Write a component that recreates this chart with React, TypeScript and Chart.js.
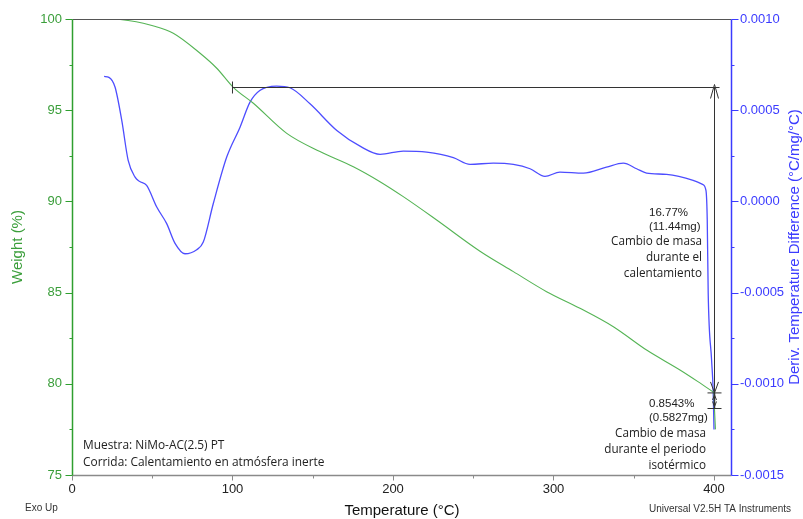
import { useEffect, useRef } from "react";
import { Chart, registerables } from "chart.js";

Chart.register(...registerables);

// TGA run: weight loss and derivative temperature difference vs. temperature
const tempWeight = [20, 30, 40, 48.6, 63.1, 79.8, 90.2, 100.3, 113, 133.8, 154.5, 175.3, 191.9, 206.4, 227.2, 254.2, 275, 295.7, 316.5, 337.3, 358, 378.8, 390, 400];
const weightPct = [100, 99.97, 99.85, 99.67, 99.22, 98.12, 97.3, 96.27, 95.38, 93.73, 92.73, 91.9, 91.08, 90.26, 88.98, 87.27, 86.15, 85.05, 84.14, 83.13, 81.85, 80.76, 80.12, 79.52];

// isothermal hold at the final temperature
const tempHold = [400, 400.3, 400.9];
const weightHold = [79.52, 78.65, 77.5];

const tempDeriv = [20, 23, 26.8, 31, 35, 39.3, 42, 46.5, 52.8, 59, 64.2, 70.4, 77.7, 81.8, 88, 96.4, 104.7, 110.9, 117, 127.5, 135.8, 148.3, 165, 180, 192, 206.4, 221, 237.6, 248, 262.5, 275, 285.4, 294.7, 304, 318.6, 333, 343.5, 351.8, 358, 370.5, 387, 392.9, 395, 395.8, 396.4, 398.5, 399.5, 400];
const derivValues = [0.000685, 0.00068, 0.000627, 0.000444, 0.000225, 0.000133, 0.00011, 0.0000877, -0.0000311, -0.000122, -0.00023, -0.000287, -0.000265, -0.000223, -0.0000128, 0.000243, 0.000407, 0.000544, 0.000608, 0.000632, 0.000623, 0.000535, 0.000389, 0.0003, 0.000258, 0.000276, 0.00027, 0.00024, 0.000203, 0.00021, 0.000203, 0.000179, 0.000137, 0.000161, 0.000155, 0.000188, 0.00021, 0.000179, 0.000155, 0.000148, 0.000115, 0.0000932, 0.00006, -0.000104, -0.000506, -0.00087, -0.00104, -0.00125];

const xTickValues = [0, 100, 200, 300, 400];
const weightTickValues = [75, 80, 85, 90, 95, 100];
const derivTickValues = [-0.0015, -0.001, -0.0005, 0, 0.0005, 0.001];

// step analysis
const stepStartTemp = 100;
const stepStartWeight = 96.27;
const stepEndTemp = 400;
const heatingLossPct = 16.77;
const heatingLossMg = 11.44;
const isoLossPct = 0.8543;
const isoLossMg = 0.5827;

const sampleLines = ["Muestra: NiMo-AC(2.5) PT", "Corrida: Calentamiento en atmósfera inerte"];
const heatingLines = ["Cambio de masa", "durante el", "calentamiento"];
const isoLines = ["Cambio de masa", "durante el periodo", "isotérmico"];

const GREEN_TEXT = "#3a9e3a";
const GREEN_AXIS = "#2f9f2f";
const GREEN_LINE = "#55b455";
const BLUE = "#3b3bff";
const BLUE_LINE = "#4d4dff";
const ARIAL = "'Liberation Sans', Arial, sans-serif";
const SEGOE = "'Open Sans', 'Noto Sans', sans-serif";

function seg(ctx: CanvasRenderingContext2D, x1: number, y1: number, x2: number, y2: number, color: string, w = 1) {
  ctx.beginPath();
  ctx.strokeStyle = color;
  ctx.lineWidth = w;
  ctx.moveTo(x1, y1);
  ctx.lineTo(x2, y2);
  ctx.stroke();
}

const overlay = {
  id: "taOverlay",
  afterDraw(chart: any) {
    const { ctx, chartArea: a } = chart;
    const x = chart.scales.x;
    const y = chart.scales.y;
    const y1 = chart.scales.y1;
    ctx.save();

    const L = Math.round(a.left) + 0.5;
    const R = Math.round(a.right) + 0.5;
    const T = Math.round(a.top) + 0.5;
    const B = Math.round(a.bottom) + 0.5;

    // frame and axes
    seg(ctx, L, T, R, T, "#555");
    seg(ctx, L, B, R, B, "#8a8a8a", 1.5);
    seg(ctx, L, T, L, B, GREEN_AXIS, 1.5);
    seg(ctx, R, T, R, B, BLUE, 1.5);

    // x ticks (major every 100, minor every 50)
    for (let v = 0; v <= 400; v += 50) {
      const px = Math.round(x.getPixelForValue(v)) + 0.5;
      seg(ctx, px, B, px, B + (v % 100 === 0 ? 5 : 3), "#8a8a8a");
    }
    // weight ticks
    for (let v = 75; v <= 100; v += 2.5) {
      const py = Math.round(y.getPixelForValue(v)) + 0.5;
      seg(ctx, L, py, L - (v % 5 === 0 ? 7 : 3), py, GREEN_AXIS);
    }
    // derivative ticks
    for (let i = 0; i <= 10; i++) {
      const v = -0.0015 + i * 0.00025;
      const py = Math.round(y1.getPixelForValue(v)) + 0.5;
      seg(ctx, R, py, R + (i % 2 === 0 ? 7 : 3), py, BLUE);
    }

    // heating step annotation
    const ink = "#333";
    const sx = x.getPixelForValue(stepStartTemp);
    const ex = Math.round(x.getPixelForValue(stepEndTemp)) + 0.5;
    const topY = Math.round(y.getPixelForValue(stepStartWeight)) + 0.5;
    const endW = stepStartWeight - heatingLossPct;
    const botY = y.getPixelForValue(endW);
    const isoY = y.getPixelForValue(endW - isoLossPct);
    seg(ctx, sx, topY, ex + 5, topY, ink);
    seg(ctx, sx, topY - 6, sx, topY + 6, ink);
    seg(ctx, ex, topY, ex, botY, ink);
    // arrowheads
    seg(ctx, ex, topY - 3, ex - 4, topY + 11, ink);
    seg(ctx, ex, topY - 3, ex + 4, topY + 11, ink);
    seg(ctx, ex, botY, ex - 4, botY - 11, ink);
    seg(ctx, ex, botY, ex + 4, botY - 11, ink);
    // isothermal step
    seg(ctx, ex - 7, botY, ex + 7, botY, ink);
    seg(ctx, ex - 7, isoY, ex + 7, isoY, ink);
    seg(ctx, ex, botY, ex, isoY, ink, 1.5);
    seg(ctx, ex, botY + 2, ex - 2, botY + 7, ink);
    seg(ctx, ex, botY + 2, ex + 2, botY + 7, ink);
    seg(ctx, ex, isoY - 2, ex - 2, isoY - 7, ink);
    seg(ctx, ex, isoY - 2, ex + 2, isoY - 7, ink);

    ctx.fillStyle = "#222";
    ctx.textBaseline = "middle";
    // heating labels
    ctx.font = `11.5px ${ARIAL}`;
    ctx.textAlign = "left";
    ctx.fillText(`${heatingLossPct.toFixed(2)}%`, 649, 213);
    ctx.fillText(`(${heatingLossMg.toFixed(2)}mg)`, 649, 227);
    ctx.font = `11.7px ${SEGOE}`;
    ctx.textAlign = "right";
    heatingLines.forEach((s, i) => ctx.fillText(s, 702, 242 + i * 15.8));
    // isothermal labels
    ctx.font = `11.5px ${ARIAL}`;
    ctx.textAlign = "left";
    ctx.fillText(`${isoLossPct.toFixed(4)}%`, 649, 404);
    ctx.fillText(`(${isoLossMg.toFixed(4)}mg)`, 649, 418);
    ctx.font = `11.7px ${SEGOE}`;
    ctx.textAlign = "right";
    isoLines.forEach((s, i) => ctx.fillText(s, 706, 434 + i * 16));

    // sample info
    ctx.font = `11.9px ${SEGOE}`;
    ctx.textAlign = "left";
    sampleLines.forEach((s, i) => ctx.fillText(s, 83, 446 + i * 16.7));

    // footer
    ctx.font = `10px ${ARIAL}`;
    ctx.fillStyle = "#333";
    ctx.fillText("Exo Up", 25, 508);
    ctx.textAlign = "right";
    ctx.fillText("Universal V2.5H TA Instruments", 791, 509);

    // axis titles
    ctx.font = `15px ${ARIAL}`;
    ctx.textAlign = "center";
    ctx.fillStyle = "#111";
    ctx.fillText("Temperature (°C)", 402, 511);

    ctx.save();
    ctx.translate(18, (a.top + a.bottom) / 2);
    ctx.rotate(-Math.PI / 2);
    ctx.fillStyle = GREEN_TEXT;
    ctx.fillText("Weight (%)", 0, 0);
    ctx.restore();

    ctx.save();
    ctx.translate(795, (a.top + a.bottom) / 2);
    ctx.rotate(-Math.PI / 2);
    ctx.fillStyle = BLUE;
    ctx.font = `15px ${ARIAL}`;
    ctx.fillText("Deriv. Temperature Difference (°C/mg/°C)", 0, 0);
    ctx.restore();

    ctx.restore();
  },
};

export default function App() {
  const ref = useRef<HTMLCanvasElement | null>(null);

  useEffect(() => {
    document.body.style.margin = "0";
    const canvas = ref.current;
    if (!canvas) return;
    const chart = new Chart(canvas, {
      type: "line",
      data: {
        datasets: [
          {
            label: "Weight (%)",
            data: tempWeight.map((t, i) => ({ x: t, y: weightPct[i] })),
            borderColor: GREEN_LINE,
            borderWidth: 1.1,
            pointRadius: 0,
            cubicInterpolationMode: "monotone",
            yAxisID: "y",
          },
          {
            label: "Weight (%) isothermal",
            data: tempHold.map((t, i) => ({ x: t, y: weightHold[i] })),
            borderColor: GREEN_LINE,
            borderWidth: 1.1,
            pointRadius: 0,
            tension: 0,
            yAxisID: "y",
          },
          {
            label: "Deriv. Temperature Difference",
            data: tempDeriv.map((t, i) => ({ x: t, y: derivValues[i] })),
            borderColor: BLUE_LINE,
            borderWidth: 1.3,
            pointRadius: 0,
            cubicInterpolationMode: "monotone",
            yAxisID: "y1",
          },
        ],
      },
      options: {
        responsive: false,
        animation: false,
        layout: { padding: { top: 19, left: 0, right: 0, bottom: 0 } },
        plugins: { legend: { display: false }, tooltip: { enabled: false } },
        scales: {
          x: {
            type: "linear",
            min: 0,
            max: 410.6,
            grid: { display: false, drawTicks: false },
            border: { display: false },
            afterFit: (s: any) => { s.height = 44; },
            afterBuildTicks: (s: any) => { s.ticks = xTickValues.map((v) => ({ value: v })); },
            ticks: {
              padding: 7,
              color: "#222",
              font: { family: ARIAL, size: 13 },
              callback: (v: any) => String(v),
            },
          },
          y: {
            type: "linear",
            position: "left",
            min: 75,
            max: 100,
            grid: { display: false, drawTicks: false },
            border: { display: false },
            afterFit: (s: any) => { s.width = 72; },
            afterBuildTicks: (s: any) => { s.ticks = weightTickValues.map((v) => ({ value: v })); },
            ticks: {
              padding: 10,
              color: GREEN_TEXT,
              font: { family: ARIAL, size: 13 },
              callback: (v: any) => String(v),
            },
          },
          y1: {
            type: "linear",
            position: "right",
            min: -0.0015,
            max: 0.001,
            grid: { display: false, drawTicks: false },
            border: { display: false },
            afterFit: (s: any) => { s.width = 72; },
            afterBuildTicks: (s: any) => { s.ticks = derivTickValues.map((v) => ({ value: v })); },
            ticks: {
              padding: 9,
              color: BLUE,
              font: { family: ARIAL, size: 13 },
              callback: (v: any) => Number(v).toFixed(4),
            },
          },
        },
      },
      plugins: [overlay],
    } as any);
    return () => chart.destroy();
  }, []);

  return (
    <div style={{ position: "absolute", left: 0, top: 0, width: 803, height: 519, background: "#fff" }}>
      <canvas ref={ref} width={803} height={519} />
    </div>
  );
}
